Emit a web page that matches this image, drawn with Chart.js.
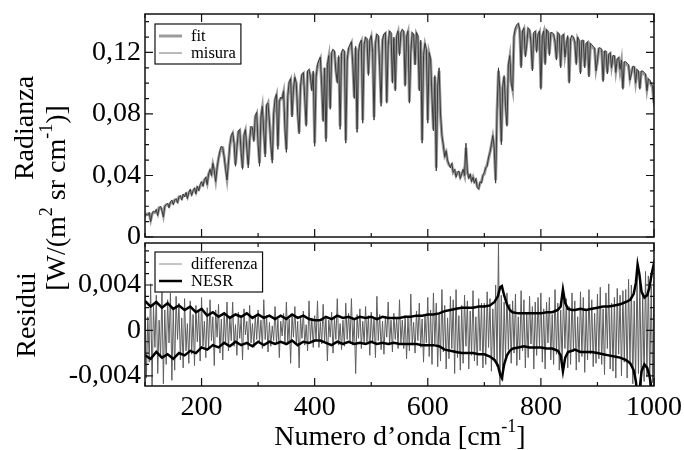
<!DOCTYPE html>
<html>
<head>
<meta charset="utf-8">
<script src="https://cdn.jsdelivr.net/npm/chart.js@4.4.1/dist/chart.umd.min.js"></script>
<style>
	html, body { margin: 0; padding: 0; background: #fff; }
	.wrap { position: relative; width: 684px; height: 450px; }
	.wrap canvas { position: absolute; left: 0; top: 0; }
</style>
</head>
<body>
<div class="wrap">
	<canvas id="residuiChart" width="684" height="450"></canvas>
	<canvas id="radianzaChart" width="684" height="450"></canvas>
</div>
<script>
/* Data */
const waveNumbers = [
	100, 102.5, 105, 107.5, 110, 112.5, 115, 117.5, 120, 122.5, 125, 127.5, 130, 132.5, 135, 137.5, 140, 142.5, 145, 147.5,
	150, 152.5, 155, 157.5, 160, 162.5, 165, 167.5, 170, 172.5, 175, 177.5, 180, 182.5, 185, 187.5, 190, 192.5, 195, 197.5,
	200, 202.5, 205, 207.5, 210, 212.5, 215, 217.5, 220, 222.5, 225, 227.5, 230, 232.5, 235, 237.5, 240, 242.5, 245, 247.5,
	250, 252.5, 255, 257.5, 260, 262.5, 265, 267.5, 270, 272.5, 275, 277.5, 280, 282.5, 285, 287.5, 290, 292.5, 295, 297.5,
	300, 302.5, 305, 307.5, 310, 312.5, 315, 317.5, 320, 322.5, 325, 327.5, 330, 332.5, 335, 337.5, 340, 342.5, 345, 347.5,
	350, 352.5, 355, 357.5, 360, 362.5, 365, 367.5, 370, 372.5, 375, 377.5, 380, 382.5, 385, 387.5, 390, 392.5, 395, 397.5,
	400, 402.5, 405, 407.5, 410, 412.5, 415, 417.5, 420, 422.5, 425, 427.5, 430, 432.5, 435, 437.5, 440, 442.5, 445, 447.5,
	450, 452.5, 455, 457.5, 460, 462.5, 465, 467.5, 470, 472.5, 475, 477.5, 480, 482.5, 485, 487.5, 490, 492.5, 495, 497.5,
	500, 502.5, 505, 507.5, 510, 512.5, 515, 517.5, 520, 522.5, 525, 527.5, 530, 532.5, 535, 537.5, 540, 542.5, 545, 547.5,
	550, 552.5, 555, 557.5, 560, 562.5, 565, 567.5, 570, 572.5, 575, 577.5, 580, 582.5, 585, 587.5, 590, 592.5, 595, 597.5,
	600, 602.5, 605, 607.5, 610, 612.5, 615, 617.5, 620, 622.5, 625, 627.5, 630, 632.5, 635, 637.5, 640, 642.5, 645, 647.5,
	650, 652.5, 655, 657.5, 660, 662.5, 665, 667.5, 670, 672.5, 675, 677.5, 680, 682.5, 685, 687.5, 690, 692.5, 695, 697.5,
	700, 702.5, 705, 707.5, 710, 712.5, 715, 717.5, 720, 722.5, 725, 727.5, 730, 732.5, 735, 737.5, 740, 742.5, 745, 747.5,
	750, 752.5, 755, 757.5, 760, 762.5, 765, 767.5, 770, 772.5, 775, 777.5, 780, 782.5, 785, 787.5, 790, 792.5, 795, 797.5,
	800, 802.5, 805, 807.5, 810, 812.5, 815, 817.5, 820, 822.5, 825, 827.5, 830, 832.5, 835, 837.5, 840, 842.5, 845, 847.5,
	850, 852.5, 855, 857.5, 860, 862.5, 865, 867.5, 870, 872.5, 875, 877.5, 880, 882.5, 885, 887.5, 890, 892.5, 895, 897.5,
	900, 902.5, 905, 907.5, 910, 912.5, 915, 917.5, 920, 922.5, 925, 927.5, 930, 932.5, 935, 937.5, 940, 942.5, 945, 947.5,
	950, 952.5, 955, 957.5, 960, 962.5, 965, 967.5, 970, 972.5, 975, 977.5, 980, 982.5, 985, 987.5, 990, 992.5, 995, 997.5,
	1000,
]

const radMisura = [
	0.013, 0.015, 0.014, 0.016, 0.010, 0.015, 0.017, 0.016, 0.018, 0.014, 0.019, 0.020, 0.017, 0.013, 0.020, 0.021, 0.022, 0.019, 0.023, 0.024,
	0.021, 0.024, 0.025, 0.022, 0.026, 0.027, 0.024, 0.028, 0.026, 0.029, 0.025, 0.029, 0.031, 0.027, 0.030, 0.032, 0.028, 0.033, 0.030, 0.034,
	0.036, 0.033, 0.037, 0.039, 0.034, 0.041, 0.044, 0.040, 0.048, 0.043, 0.036, 0.045, 0.051, 0.056, 0.059, 0.058, 0.052, 0.044, 0.037, 0.048,
	0.060, 0.066, 0.068, 0.061, 0.046, 0.058, 0.069, 0.070, 0.055, 0.044, 0.066, 0.070, 0.058, 0.045, 0.063, 0.072, 0.071, 0.062, 0.079, 0.081,
	0.060, 0.046, 0.078, 0.085, 0.068, 0.052, 0.086, 0.087, 0.075, 0.060, 0.048, 0.080, 0.090, 0.093, 0.057, 0.088, 0.091, 0.090, 0.095, 0.070,
	0.055, 0.092, 0.101, 0.103, 0.078, 0.096, 0.104, 0.100, 0.080, 0.067, 0.098, 0.106, 0.107, 0.090, 0.072, 0.108, 0.109, 0.104, 0.095, 0.108,
	0.059, 0.104, 0.112, 0.115, 0.117, 0.098, 0.075, 0.110, 0.062, 0.112, 0.118, 0.083, 0.120, 0.122, 0.121, 0.108, 0.100, 0.118, 0.070, 0.120,
	0.122, 0.121, 0.061, 0.115, 0.123, 0.125, 0.127, 0.112, 0.090, 0.124, 0.068, 0.120, 0.126, 0.128, 0.074, 0.125, 0.130, 0.129, 0.105, 0.128,
	0.131, 0.120, 0.076, 0.126, 0.132, 0.131, 0.110, 0.085, 0.128, 0.132, 0.133, 0.087, 0.125, 0.134, 0.133, 0.100, 0.130, 0.095, 0.131, 0.134,
	0.118, 0.133, 0.135, 0.134, 0.098, 0.130, 0.134, 0.087, 0.120, 0.133, 0.132, 0.112, 0.133, 0.131, 0.095, 0.128, 0.061, 0.118, 0.126, 0.122,
	0.074, 0.120, 0.116, 0.090, 0.069, 0.105, 0.043, 0.098, 0.110, 0.080, 0.066, 0.060, 0.052, 0.056, 0.050, 0.047, 0.045, 0.048, 0.042, 0.044,
	0.039, 0.042, 0.043, 0.038, 0.041, 0.044, 0.040, 0.061, 0.043, 0.038, 0.041, 0.036, 0.039, 0.035, 0.038, 0.032, 0.031, 0.036, 0.035, 0.040,
	0.042, 0.045, 0.046, 0.052, 0.055, 0.060, 0.066, 0.058, 0.035, 0.082, 0.110, 0.095, 0.060, 0.098, 0.105, 0.085, 0.072, 0.112, 0.118, 0.100,
	0.095, 0.131, 0.136, 0.138, 0.139, 0.135, 0.110, 0.134, 0.136, 0.117, 0.125, 0.136, 0.135, 0.126, 0.108, 0.133, 0.134, 0.120, 0.132, 0.134,
	0.096, 0.131, 0.134, 0.112, 0.135, 0.134, 0.118, 0.133, 0.133, 0.132, 0.127, 0.115, 0.133, 0.132, 0.110, 0.131, 0.132, 0.117, 0.125, 0.131,
	0.100, 0.129, 0.131, 0.130, 0.127, 0.112, 0.130, 0.128, 0.106, 0.128, 0.128, 0.110, 0.126, 0.127, 0.104, 0.126, 0.125, 0.124, 0.123, 0.108,
	0.115, 0.123, 0.123, 0.122, 0.101, 0.121, 0.121, 0.106, 0.119, 0.120, 0.110, 0.118, 0.118, 0.107, 0.116, 0.117, 0.109, 0.115, 0.096, 0.114,
	0.114, 0.113, 0.112, 0.102, 0.106, 0.111, 0.111, 0.100, 0.109, 0.108, 0.096, 0.108, 0.108, 0.107, 0.106, 0.095, 0.103, 0.102, 0.100, 0.098,
	0.085,
]

const radFit = [
	0.014, 0.015, 0.015, 0.015, 0.011, 0.015, 0.016, 0.016, 0.017, 0.015, 0.019, 0.019, 0.018, 0.014, 0.020, 0.021, 0.021, 0.020, 0.022, 0.023,
	0.022, 0.024, 0.024, 0.023, 0.026, 0.026, 0.025, 0.027, 0.027, 0.028, 0.026, 0.029, 0.030, 0.028, 0.030, 0.031, 0.029, 0.032, 0.031, 0.033,
	0.035, 0.034, 0.037, 0.038, 0.035, 0.041, 0.043, 0.041, 0.047, 0.043, 0.037, 0.045, 0.051, 0.055, 0.058, 0.058, 0.052, 0.045, 0.038, 0.048,
	0.059, 0.065, 0.067, 0.061, 0.047, 0.058, 0.068, 0.069, 0.056, 0.045, 0.066, 0.069, 0.058, 0.047, 0.063, 0.071, 0.071, 0.063, 0.078, 0.080,
	0.061, 0.048, 0.078, 0.084, 0.068, 0.054, 0.085, 0.087, 0.075, 0.061, 0.050, 0.080, 0.089, 0.092, 0.059, 0.088, 0.090, 0.090, 0.094, 0.071,
	0.057, 0.092, 0.100, 0.102, 0.079, 0.096, 0.103, 0.100, 0.081, 0.068, 0.098, 0.105, 0.106, 0.090, 0.073, 0.107, 0.108, 0.104, 0.096, 0.107,
	0.061, 0.104, 0.111, 0.114, 0.116, 0.098, 0.076, 0.110, 0.064, 0.112, 0.117, 0.084, 0.119, 0.121, 0.120, 0.108, 0.101, 0.117, 0.072, 0.119,
	0.121, 0.120, 0.063, 0.115, 0.122, 0.124, 0.126, 0.112, 0.091, 0.123, 0.070, 0.120, 0.125, 0.127, 0.076, 0.125, 0.129, 0.128, 0.106, 0.127,
	0.130, 0.120, 0.078, 0.126, 0.131, 0.130, 0.111, 0.087, 0.128, 0.131, 0.132, 0.088, 0.125, 0.133, 0.132, 0.101, 0.129, 0.096, 0.130, 0.133,
	0.119, 0.132, 0.134, 0.133, 0.099, 0.130, 0.133, 0.088, 0.120, 0.132, 0.131, 0.112, 0.132, 0.130, 0.096, 0.127, 0.063, 0.118, 0.125, 0.121,
	0.076, 0.119, 0.115, 0.090, 0.070, 0.104, 0.045, 0.097, 0.108, 0.079, 0.066, 0.059, 0.053, 0.055, 0.049, 0.047, 0.046, 0.047, 0.042, 0.043,
	0.040, 0.042, 0.042, 0.039, 0.041, 0.043, 0.040, 0.058, 0.042, 0.039, 0.040, 0.037, 0.039, 0.036, 0.037, 0.033, 0.032, 0.035, 0.036, 0.040,
	0.041, 0.045, 0.047, 0.051, 0.055, 0.060, 0.065, 0.058, 0.037, 0.082, 0.108, 0.095, 0.062, 0.097, 0.104, 0.086, 0.073, 0.111, 0.117, 0.101,
	0.096, 0.130, 0.135, 0.137, 0.138, 0.134, 0.111, 0.133, 0.135, 0.118, 0.126, 0.135, 0.134, 0.127, 0.109, 0.132, 0.133, 0.121, 0.131, 0.133,
	0.097, 0.130, 0.133, 0.113, 0.134, 0.133, 0.119, 0.132, 0.132, 0.131, 0.126, 0.116, 0.132, 0.131, 0.111, 0.130, 0.131, 0.118, 0.124, 0.130,
	0.101, 0.128, 0.130, 0.129, 0.126, 0.113, 0.129, 0.127, 0.107, 0.127, 0.127, 0.111, 0.125, 0.126, 0.105, 0.125, 0.124, 0.123, 0.122, 0.109,
	0.114, 0.122, 0.122, 0.121, 0.102, 0.120, 0.120, 0.107, 0.118, 0.119, 0.111, 0.117, 0.117, 0.108, 0.115, 0.116, 0.108, 0.114, 0.097, 0.113,
	0.113, 0.112, 0.111, 0.103, 0.107, 0.110, 0.110, 0.101, 0.108, 0.107, 0.097, 0.107, 0.107, 0.106, 0.105, 0.096, 0.102, 0.101, 0.099, 0.097,
	0.087,
]

const diffValues = [
	0.0035, -0.0042, 0.0012, -0.0028, 0.0041, -0.0051, 0.0022, -0.0015, 0.0031, -0.0038, 0.0009, -0.0024, 0.0036, -0.0047, 0.0018, -0.0030, 0.0027, -0.0011, 0.0033, -0.0044,
	0.0019, -0.0035, 0.0030, -0.0008, 0.0024, -0.0026, 0.0011, -0.0033, 0.0028, -0.0018, 0.0006, -0.0029, 0.0026, -0.0021, 0.0014, -0.0031, 0.0022, -0.0010, 0.0017, -0.0027,
	0.0029, -0.0014, 0.0008, -0.0024, 0.0020, -0.0017, 0.0027, -0.0009, 0.0012, -0.0031, 0.0018, -0.0006, 0.0023, -0.0020, 0.0010, -0.0026, 0.0015, -0.0012, 0.0025, -0.0018,
	0.0012, -0.0009, 0.0025, -0.0014, 0.0005, -0.0022, 0.0016, -0.0007, 0.0011, -0.0026, 0.0019, -0.0004, 0.0008, -0.0017, 0.0022, -0.0011, 0.0006, -0.0015, 0.0013, -0.0008,
	0.0018, -0.0010, 0.0009, -0.0016, 0.0027, -0.0008, 0.0013, -0.0019, 0.0007, -0.0014, 0.0004, -0.0009, 0.0021, -0.0012, 0.0010, -0.0024, 0.0008, -0.0005, 0.0015, -0.0011,
	0.0025, -0.0011, 0.0010, -0.0029, 0.0014, -0.0006, 0.0021, -0.0012, 0.0008, -0.0033, 0.0012, -0.0007, 0.0017, -0.0013, 0.0005, -0.0018, 0.0026, -0.0009, 0.0011, -0.0015,
	0.0013, -0.0009, 0.0026, -0.0015, 0.0007, -0.0012, 0.0023, -0.0010, 0.0012, -0.0027, 0.0009, -0.0006, 0.0016, -0.0020, 0.0011, -0.0008, 0.0028, -0.0013, 0.0006, -0.0017,
	0.0009, -0.0014, 0.0024, -0.0008, 0.0015, -0.0011, 0.0028, -0.0013, 0.0010, -0.0038, 0.0014, -0.0007, 0.0019, -0.0016, 0.0008, -0.0012, 0.0021, -0.0010, 0.0013, -0.0022,
	0.0016, -0.0010, 0.0011, -0.0024, 0.0030, -0.0009, 0.0014, -0.0017, 0.0008, -0.0021, 0.0012, -0.0006, 0.0025, -0.0013, 0.0009, -0.0019, 0.0015, -0.0008, 0.0011, -0.0016,
	0.0027, -0.0012, 0.0009, -0.0016, 0.0013, -0.0025, 0.0011, -0.0018, 0.0032, -0.0013, 0.0007, -0.0020, 0.0017, -0.0009, 0.0024, -0.0015, 0.0010, -0.0028, 0.0014, -0.0011,
	0.0029, -0.0023, 0.0018, -0.0030, 0.0033, -0.0012, 0.0024, -0.0032, 0.0015, -0.0027, 0.0036, -0.0019, 0.0022, -0.0034, 0.0011, -0.0025, 0.0030, -0.0016, 0.0027, -0.0038,
	0.0036, -0.0024, 0.0013, -0.0035, 0.0022, -0.0029, 0.0031, -0.0014, 0.0026, -0.0034, 0.0017, -0.0022, 0.0035, -0.0027, 0.0012, -0.0031, 0.0028, -0.0018, 0.0024, -0.0033,
	0.0024, -0.0030, 0.0034, -0.0015, 0.0028, -0.0036, 0.0019, -0.0026, 0.0040, -0.0032, 0.0077, -0.0048, 0.0031, -0.0044, 0.0025, -0.0023, 0.0033, -0.0017, 0.0023, -0.0029,
	0.0026, -0.0020, 0.0032, -0.0031, 0.0012, -0.0026, 0.0035, -0.0018, 0.0027, -0.0033, 0.0016, -0.0024, 0.0030, -0.0012, 0.0021, -0.0034, 0.0025, -0.0022, 0.0029, -0.0014,
	0.0033, -0.0028, 0.0019, -0.0034, 0.0025, -0.0011, 0.0029, -0.0026, 0.0014, -0.0030, 0.0036, -0.0021, 0.0024, -0.0035, 0.0018, -0.0027, 0.0031, -0.0016, 0.0028, -0.0033,
	0.0021, -0.0030, 0.0033, -0.0019, 0.0026, -0.0035, 0.0012, -0.0028, 0.0034, -0.0023, 0.0029, -0.0037, 0.0017, -0.0026, 0.0036, -0.0021, 0.0027, -0.0032, 0.0015, -0.0029,
	0.0032, -0.0025, 0.0038, -0.0030, 0.0019, -0.0039, 0.0033, -0.0016, 0.0041, -0.0034, 0.0024, -0.0036, 0.0029, -0.0042, 0.0037, -0.0021, 0.0031, -0.0040, 0.0035, -0.0028,
	0.0036, -0.0042, 0.0045, -0.0030, 0.0040, -0.0047, 0.0026, -0.0044, 0.0050, -0.0038, 0.0046, -0.0049, 0.0033, -0.0045, 0.0052, -0.0041, 0.0048, -0.0050, 0.0039, -0.0046,
	0.0049,
]

const nesrWave = [
	100, 110, 120, 130, 140, 150, 160, 170, 180, 190,
	200, 210, 220, 230, 240, 250, 260, 270, 280, 290,
	300, 310, 320, 330, 340, 350, 360, 370, 380, 390,
	400, 410, 420, 430, 440, 450, 460, 470, 480, 490,
	500, 510, 520, 530, 540, 550, 560, 570, 580, 590,
	600, 610, 620, 630, 640, 650, 660, 670, 680, 690,
	700, 710, 718, 724, 728, 731, 735, 740, 745, 750,
	760, 770, 780, 790, 800, 810, 820, 830, 835, 839,
	843, 848, 855, 860, 870, 880, 890, 900, 910, 920,
	930, 940, 950, 958, 964, 968, 971, 974, 978, 983,
	988, 992, 996, 999, 1000,
]

const nesrUpper = [
	0.0026, 0.0021, 0.0025, 0.0020, 0.0024, 0.0019, 0.0022, 0.0018, 0.0021, 0.0016,
	0.0019, 0.0013, 0.0016, 0.0012, 0.0015, 0.0011, 0.0014, 0.0012, 0.0015, 0.0011,
	0.0014, 0.0011, 0.0013, 0.0010, 0.0013, 0.0010, 0.0014, 0.0011, 0.0013, 0.0010,
	0.0009, 0.0009, 0.0012, 0.0010, 0.0013, 0.0011, 0.0012, 0.0010, 0.0012, 0.0011,
	0.0012, 0.0010, 0.0012, 0.0011, 0.0011, 0.0011, 0.0012, 0.0012, 0.0013, 0.0013,
	0.0014, 0.0014, 0.0015, 0.0017, 0.0018, 0.0019, 0.0020, 0.0020, 0.0020, 0.0021,
	0.0021, 0.0022, 0.0025, 0.0030, 0.0038, 0.0039, 0.0031, 0.0023, 0.0018, 0.0016,
	0.0015, 0.0015, 0.0015, 0.0015, 0.0015, 0.0016, 0.0016, 0.0018, 0.0021, 0.0036,
	0.0024, 0.0019, 0.0018, 0.0018, 0.0019, 0.0018, 0.0019, 0.0020, 0.0021, 0.0021,
	0.0022, 0.0023, 0.0025, 0.0027, 0.0032, 0.0042, 0.0058, 0.0050, 0.0034, 0.0029,
	0.0031, 0.0038, 0.0050, 0.0057, 0.0054,
]

const nesrLower = [
	-0.0022, -0.0025, -0.0019, -0.0024, -0.0021, -0.0025, -0.0020, -0.0022, -0.0018, -0.0020,
	-0.0015, -0.0017, -0.0013, -0.0015, -0.0011, -0.0014, -0.0010, -0.0013, -0.0011, -0.0014,
	-0.0010, -0.0013, -0.0010, -0.0012, -0.0010, -0.0012, -0.0009, -0.0013, -0.0010, -0.0011,
	-0.0009, -0.0009, -0.0011, -0.0013, -0.0010, -0.0012, -0.0010, -0.0012, -0.0011, -0.0012,
	-0.0010, -0.0012, -0.0011, -0.0012, -0.0011, -0.0012, -0.0012, -0.0012, -0.0012, -0.0013,
	-0.0013, -0.0013, -0.0014, -0.0017, -0.0018, -0.0019, -0.0020, -0.0020, -0.0020, -0.0021,
	-0.0021, -0.0023, -0.0026, -0.0031, -0.0039, -0.0042, -0.0030, -0.0022, -0.0018, -0.0016,
	-0.0015, -0.0014, -0.0015, -0.0015, -0.0015, -0.0016, -0.0016, -0.0018, -0.0022, -0.0036,
	-0.0024, -0.0019, -0.0018, -0.0017, -0.0019, -0.0019, -0.0019, -0.0020, -0.0021, -0.0022,
	-0.0023, -0.0024, -0.0026, -0.0029, -0.0035, -0.0045, -0.0060, -0.0055, -0.0036, -0.0030,
	-0.0033, -0.0040, -0.0052, -0.0060, -0.0058,
]

const xTickValues = [200, 400, 600, 800, 1000]
const xTickLabels = ['200', '400', '600', '800', '1000']
const radTickValues = [0, 0.04, 0.08, 0.12]
const radTickLabels = ['0', '0,04', '0,08', '0,12']
const resTickValues = [-0.004, 0, 0.004]
const resTickLabels = ['-0,004', '0', '0,004']

/* Common */
const serif = '"Liberation Serif", "DejaVu Serif", serif'
Chart.defaults.font.family = serif
Chart.defaults.color = '#000'

function points(xs, ys) {
	return xs.map((x, i) => ({ x: x, y: ys[i] }))
}

function isMultiple(v, step) {
	const r = v / step
	return Math.abs(r - Math.round(r)) < 1e-6
}

// frame + inward ticks on all four sides, like xmgrace
const frameTicks = {
	id: 'frameTicks',
	afterDatasetsDraw(chart, args, opts) {
		const { ctx, chartArea: a, scales } = chart
		ctx.save()
		ctx.strokeStyle = '#111'
		ctx.lineWidth = 1.2
		ctx.beginPath()
		const sx = scales.x
		let v = Math.ceil(sx.min / opts.xMinor - 1e-9) * opts.xMinor
		for (; v <= sx.max + 1e-9; v += opts.xMinor) {
			const px = sx.getPixelForValue(v)
			const len = isMultiple(v, opts.xMajor) ? 8 : 4
			ctx.moveTo(px, a.bottom)
			ctx.lineTo(px, a.bottom - len)
			ctx.moveTo(px, a.top)
			ctx.lineTo(px, a.top + len)
		}
		const sy = scales.y
		let w = Math.ceil(sy.min / opts.yMinor - 1e-9) * opts.yMinor
		for (; w <= sy.max + 1e-12; w += opts.yMinor) {
			const py = sy.getPixelForValue(w)
			const len = isMultiple(w, opts.yMajor) ? 8 : 4
			ctx.moveTo(a.left, py)
			ctx.lineTo(a.left + len, py)
			ctx.moveTo(a.right, py)
			ctx.lineTo(a.right - len, py)
		}
		ctx.stroke()
		ctx.lineWidth = 1.5
		ctx.strokeRect(a.left, a.top, a.right - a.left, a.bottom - a.top)
		ctx.restore()
	},
}

// boxed legend inside the plot
const boxLegend = {
	id: 'boxLegend',
	afterDraw(chart, args, opts) {
		const ctx = chart.ctx
		const a = chart.chartArea
		const items = chart.data.datasets.filter(d => !d.hideInLegend)
		ctx.save()
		ctx.font = '16.5px ' + serif
		let textW = 0
		items.forEach(d => { textW = Math.max(textW, ctx.measureText(d.label).width) })
		const x0 = a.left + opts.dx
		const y0 = a.top + opts.dy
		const bw = 36 + textW + 5
		const bh = items.length * 17 + 6
		ctx.fillStyle = '#fff'
		ctx.fillRect(x0, y0, bw, bh)
		ctx.strokeStyle = '#111'
		ctx.lineWidth = 1.2
		ctx.strokeRect(x0, y0, bw, bh)
		ctx.textBaseline = 'middle'
		items.forEach((d, i) => {
			const y = y0 + 12 + i * 17
			ctx.strokeStyle = d.legendColor || d.borderColor
			ctx.lineWidth = d.borderWidth
			ctx.beginPath()
			ctx.moveTo(x0 + 4, y)
			ctx.lineTo(x0 + 27, y)
			ctx.stroke()
			ctx.fillStyle = '#000'
			ctx.fillText(d.label, x0 + 36, y + 1)
		})
		ctx.restore()
	},
}

// axis titles with superscripts
function drawRich(ctx, parts, x, y, rotate, size) {
	const supSize = Math.round(size * 0.64)
	ctx.save()
	ctx.translate(x, y)
	if (rotate) ctx.rotate(-Math.PI / 2)
	let total = 0
	parts.forEach(p => {
		ctx.font = (p.sup ? supSize : size) + 'px ' + serif
		total += ctx.measureText(p.text).width
	})
	let cx = -total / 2
	ctx.fillStyle = '#000'
	ctx.textBaseline = 'alphabetic'
	parts.forEach(p => {
		ctx.font = (p.sup ? supSize : size) + 'px ' + serif
		ctx.fillText(p.text, cx, p.sup ? -size * 0.45 : 0)
		cx += ctx.measureText(p.text).width
	})
	ctx.restore()
}

const axisTitles = {
	id: 'axisTitles',
	afterDraw(chart, args, opts) {
		opts.items.forEach(it => drawRich(chart.ctx, it.parts, it.x, it.y, it.rotate, 28))
	},
}

function yAxis(min, max, values, labels) {
	return {
		min: min,
		max: max,
		grid: { display: false, drawTicks: false },
		border: { display: false },
		afterBuildTicks: s => { s.ticks = values.map(v => ({ value: v })) },
		afterFit: s => { s.width = 145; s.paddingTop = 0; s.paddingBottom = 0 },
		ticks: {
			autoSkip: false,
			padding: 4,
			font: { size: 28 },
			color: '#000',
			callback: v => labels[values.indexOf(v)],
		},
	}
}

/* Top panel: Radianza */
new Chart(document.getElementById('radianzaChart'), {
	type: 'line',
	data: {
		datasets: [
			{
				label: 'fit',
				data: points(waveNumbers, radFit),
				borderColor: '#9c9c9c',
				borderWidth: 3,
				order: 2,
				clip: 0,
			},
			{
				label: 'misura',
				data: points(waveNumbers, radMisura),
				borderColor: '#3a3a3a',
				legendColor: '#777777',
				borderWidth: 1,
				order: 1,
				clip: 0,
			},
		],
	},
	options: {
		responsive: false,
		animation: false,
		events: [],
		layout: { padding: { left: 0, top: 14, right: 30, bottom: 213 } },
		elements: { point: { radius: 0 }, line: { tension: 0 } },
		plugins: {
			legend: { display: false },
			tooltip: { enabled: false },
			frameTicks: { xMinor: 100, xMajor: 200, yMinor: 0.01, yMajor: 0.04 },
			boxLegend: { dx: 10, dy: 10 },
			axisTitles: {
				items: [
					{ parts: [{ text: 'Radianza' }], x: 33, y: 128, rotate: true },
					{
						parts: [
							{ text: '[W/(m' },
							{ text: '2', sup: true },
							{ text: ' sr cm' },
							{ text: '-1', sup: true },
							{ text: ')]' },
						],
						x: 65,
						y: 198,
						rotate: true,
					},
				],
			},
		},
		scales: {
			x: { type: 'linear', display: false, min: 100, max: 1000 },
			y: yAxis(0, 0.145, radTickValues, radTickLabels),
		},
	},
	plugins: [frameTicks, boxLegend, axisTitles],
})

/* Bottom panel: Residui */
new Chart(document.getElementById('residuiChart'), {
	type: 'line',
	data: {
		datasets: [
			{
				label: 'differenza',
				data: points(waveNumbers, diffValues),
				borderColor: '#5e5e5e',
				legendColor: '#8a8a8a',
				borderWidth: 1,
				order: 2,
				clip: 0,
			},
			{
				label: 'NESR',
				data: points(nesrWave, nesrUpper),
				borderColor: '#000',
				borderWidth: 2.5,
				order: 1,
				clip: 0,
			},
			{
				label: 'NESR',
				data: points(nesrWave, nesrLower),
				borderColor: '#000',
				borderWidth: 2.5,
				order: 1,
				clip: 0,
				hideInLegend: true,
			},
		],
	},
	options: {
		responsive: false,
		animation: false,
		events: [],
		layout: { padding: { left: 0, top: 243, right: 30, bottom: 0 } },
		elements: { point: { radius: 0 }, line: { tension: 0 } },
		plugins: {
			legend: { display: false },
			tooltip: { enabled: false },
			frameTicks: { xMinor: 100, xMajor: 200, yMinor: 0.001, yMajor: 0.004 },
			boxLegend: { dx: 10, dy: 9 },
			axisTitles: {
				items: [
					{ parts: [{ text: 'Residui' }], x: 35, y: 315, rotate: true },
					{
						parts: [
							{ text: 'Numero d\u2019onda [cm' },
							{ text: '-1', sup: true },
							{ text: ']' },
						],
						x: 400,
						y: 445,
						rotate: false,
					},
				],
			},
		},
		scales: {
			x: {
				type: 'linear',
				min: 100,
				max: 1000,
				grid: { display: false, drawTicks: false },
				border: { display: false },
				afterBuildTicks: s => { s.ticks = xTickValues.map(v => ({ value: v })) },
				afterFit: s => { s.height = 64; s.paddingLeft = 0; s.paddingRight = 0 },
				ticks: {
					autoSkip: false,
					maxRotation: 0,
					padding: 5,
					font: { size: 28 },
					color: '#000',
					callback: v => xTickLabels[xTickValues.indexOf(v)],
				},
			},
			y: yAxis(-0.0049, 0.0077, resTickValues, resTickLabels),
		},
	},
	plugins: [frameTicks, boxLegend, axisTitles],
})
</script>
</body>
</html>
